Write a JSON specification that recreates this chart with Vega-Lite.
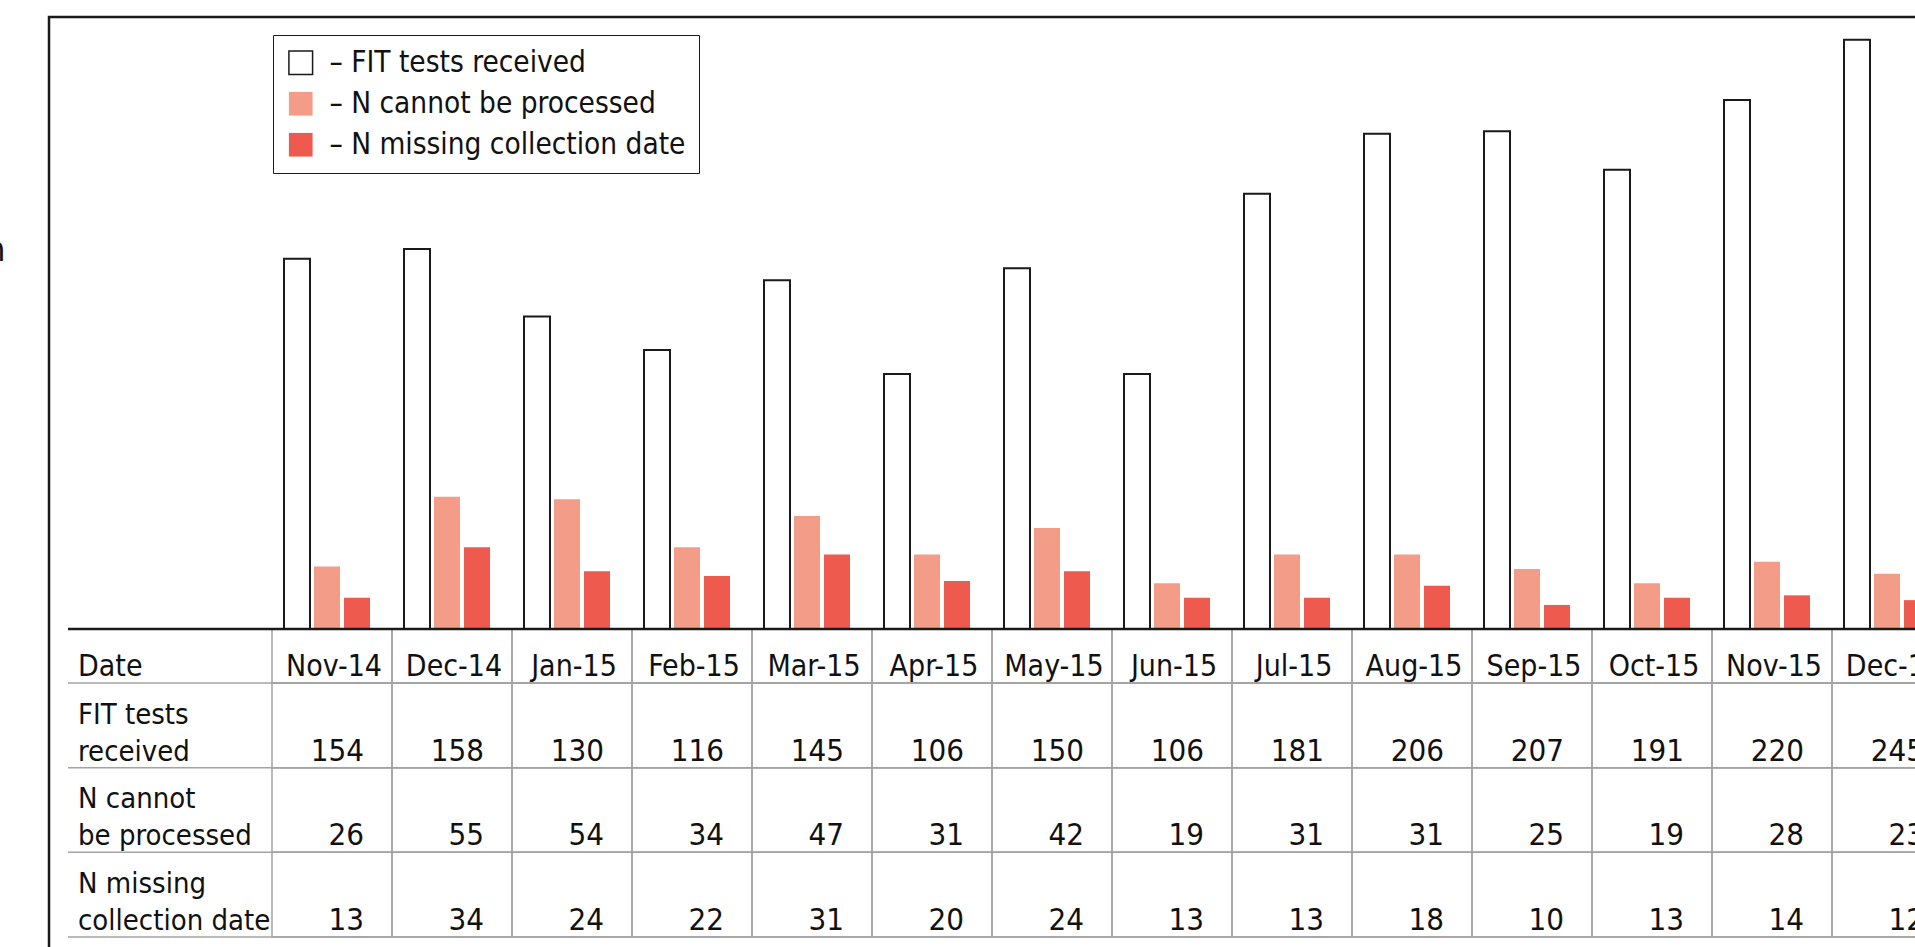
{
  "$schema": "https://vega.github.io/schema/vega-lite/v6.json",
  "autosize": {"type": "none"},
  "padding": {"left": 49, "top": 17, "right": -30, "bottom": -30},
  "width": 1896,
  "height": 960,
  "background": "white",
  "config": {
    "view": {"stroke": "#1a1a1a", "strokeWidth": 2.5},
    "font": "DejaVu Sans Condensed, DejaVu Sans, sans-serif",
    "text": {"font": "DejaVu Sans Condensed, DejaVu Sans, sans-serif", "fontSize": 29, "color": "#111111"}
  },
  "datasets": {
    "counts": [
      {"month": "Nov-14", "series": "FIT tests received", "value": 154},
      {"month": "Dec-14", "series": "FIT tests received", "value": 158},
      {"month": "Jan-15", "series": "FIT tests received", "value": 130},
      {"month": "Feb-15", "series": "FIT tests received", "value": 116},
      {"month": "Mar-15", "series": "FIT tests received", "value": 145},
      {"month": "Apr-15", "series": "FIT tests received", "value": 106},
      {"month": "May-15", "series": "FIT tests received", "value": 150},
      {"month": "Jun-15", "series": "FIT tests received", "value": 106},
      {"month": "Jul-15", "series": "FIT tests received", "value": 181},
      {"month": "Aug-15", "series": "FIT tests received", "value": 206},
      {"month": "Sep-15", "series": "FIT tests received", "value": 207},
      {"month": "Oct-15", "series": "FIT tests received", "value": 191},
      {"month": "Nov-15", "series": "FIT tests received", "value": 220},
      {"month": "Dec-15", "series": "FIT tests received", "value": 245},
      {"month": "Nov-14", "series": "N cannot be processed", "value": 26},
      {"month": "Dec-14", "series": "N cannot be processed", "value": 55},
      {"month": "Jan-15", "series": "N cannot be processed", "value": 54},
      {"month": "Feb-15", "series": "N cannot be processed", "value": 34},
      {"month": "Mar-15", "series": "N cannot be processed", "value": 47},
      {"month": "Apr-15", "series": "N cannot be processed", "value": 31},
      {"month": "May-15", "series": "N cannot be processed", "value": 42},
      {"month": "Jun-15", "series": "N cannot be processed", "value": 19},
      {"month": "Jul-15", "series": "N cannot be processed", "value": 31},
      {"month": "Aug-15", "series": "N cannot be processed", "value": 31},
      {"month": "Sep-15", "series": "N cannot be processed", "value": 25},
      {"month": "Oct-15", "series": "N cannot be processed", "value": 19},
      {"month": "Nov-15", "series": "N cannot be processed", "value": 28},
      {"month": "Dec-15", "series": "N cannot be processed", "value": 23},
      {"month": "Nov-14", "series": "N missing collection date", "value": 13},
      {"month": "Dec-14", "series": "N missing collection date", "value": 34},
      {"month": "Jan-15", "series": "N missing collection date", "value": 24},
      {"month": "Feb-15", "series": "N missing collection date", "value": 22},
      {"month": "Mar-15", "series": "N missing collection date", "value": 31},
      {"month": "Apr-15", "series": "N missing collection date", "value": 20},
      {"month": "May-15", "series": "N missing collection date", "value": 24},
      {"month": "Jun-15", "series": "N missing collection date", "value": 13},
      {"month": "Jul-15", "series": "N missing collection date", "value": 13},
      {"month": "Aug-15", "series": "N missing collection date", "value": 18},
      {"month": "Sep-15", "series": "N missing collection date", "value": 10},
      {"month": "Oct-15", "series": "N missing collection date", "value": 13},
      {"month": "Nov-15", "series": "N missing collection date", "value": 14},
      {"month": "Dec-15", "series": "N missing collection date", "value": 12}
    ],
    "months": [
      {"month": "Nov-14"}, {"month": "Dec-14"}, {"month": "Jan-15"}, {"month": "Feb-15"},
      {"month": "Mar-15"}, {"month": "Apr-15"}, {"month": "May-15"}, {"month": "Jun-15"},
      {"month": "Jul-15"}, {"month": "Aug-15"}, {"month": "Sep-15"}, {"month": "Oct-15"},
      {"month": "Nov-15"}, {"month": "Dec-15"}
    ],
    "rows": [
      {"series": "FIT tests received", "label": "FIT tests\nreceived"},
      {"series": "N cannot be processed", "label": "N cannot\nbe processed"},
      {"series": "N missing collection date", "label": "N missing\ncollection date"}
    ]
  },
  "layer": [
    {
      "data": {"name": "counts"},
      "mark": {"type": "bar", "strokeWidth": 2},
      "encoding": {
        "x": {"field": "month", "type": "nominal", "sort": null, "axis": null,
              "scale": {"domain": ["Nov-14","Dec-14","Jan-15","Feb-15","Mar-15","Apr-15","May-15","Jun-15","Jul-15","Aug-15","Sep-15","Oct-15","Nov-15","Dec-15"], "range": [223, 1903], "paddingInner": 0, "paddingOuter": 0}},
        "xOffset": {"field": "series", "type": "nominal", "sort": null,
              "scale": {"domain": ["FIT tests received", "N cannot be processed", "N missing collection date"], "range": [12, 98], "paddingInner": 0.133, "paddingOuter": 0}},
        "y": {"field": "value", "type": "quantitative",
              "scale": {"domain": [0, 254.5], "range": [612, 0], "nice": false},
              "axis": {"title": "n", "domain": false, "ticks": false, "labels": false, "grid": false,
                       "titleAngle": 0, "titleAlign": "right", "titleBaseline": "alphabetic",
                       "titleX": -44, "titleY": 243, "titleFontSize": 34, "titleFontWeight": "normal",
                       "titleColor": "#111111", "titleFont": "DejaVu Sans Condensed, DejaVu Sans, sans-serif"}},
        "fill": {"field": "series", "type": "nominal", "sort": null,
              "scale": {"domain": ["FIT tests received", "N cannot be processed", "N missing collection date"], "range": ["#ffffff", "#F39C87", "#EE5A4E"]},
              "legend": {"title": null, "orient": "none", "legendX": 224, "legendY": 18, "symbolType": "square", "symbolSize": 560, "symbolStrokeWidth": 1.5, "labelFontSize": 29.5, "labelFont": "DejaVu Sans Condensed, DejaVu Sans, sans-serif", "labelColor": "#111111", "labelExpr": "'– ' + datum.label", "labelOffset": 14, "labelLimit": 600, "rowPadding": 10, "padding": 13, "strokeColor": "#1a1a1a", "fillColor": "#ffffff", "symbolOpacity": 1}},
        "stroke": {"field": "series", "type": "nominal", "sort": null,
              "scale": {"domain": ["FIT tests received", "N cannot be processed", "N missing collection date"], "range": ["#1a1a1a", "rgba(0,0,0,0)", "rgba(0,0,0,0)"]},
              "legend": {"title": null, "orient": "none", "legendX": 224, "legendY": 18, "symbolType": "square", "symbolSize": 560, "symbolStrokeWidth": 1.5, "labelFontSize": 29.5, "labelFont": "DejaVu Sans Condensed, DejaVu Sans, sans-serif", "labelColor": "#111111", "labelExpr": "'– ' + datum.label", "labelOffset": 14, "labelLimit": 600, "rowPadding": 10, "padding": 13, "strokeColor": "#1a1a1a", "fillColor": "#ffffff", "symbolOpacity": 1}}
      }
    },
    {
      "layer": [
        {
          "data": {"name": "months"},
          "mark": {"type": "rect", "filled": false, "color": "#a3a3a3", "strokeWidth": 1.5},
          "encoding": {
            "x": {"field": "month", "type": "nominal", "sort": null,
                  "scale": {"domain": ["Nov-14","Dec-14","Jan-15","Feb-15","Mar-15","Apr-15","May-15","Jun-15","Jul-15","Aug-15","Sep-15","Oct-15","Nov-15","Dec-15"], "range": [223, 1903], "paddingInner": 0, "paddingOuter": 0}},
            "y": {"datum": "Date", "type": "nominal", "axis": null,
                  "scale": {"domain": ["Date"], "range": [612, 666], "paddingInner": 0, "paddingOuter": 0}}
          }
        },
        {
          "data": {"name": "months"},
          "mark": {"type": "text", "align": "center", "baseline": "alphabetic", "dx": 2, "dy": -7, "fontSize": 30},
          "encoding": {
            "x": {"field": "month", "type": "nominal", "sort": null},
            "y": {"datum": "Date", "type": "nominal", "bandPosition": 1},
            "text": {"field": "month"}
          }
        },
        {
          "data": {"values": [{"label": "Date"}]},
          "mark": {"type": "text", "align": "left", "baseline": "alphabetic", "dx": -194, "dy": -7, "fontSize": 30},
          "encoding": {
            "x": {"datum": "Nov-14", "type": "nominal", "bandPosition": 0},
            "y": {"datum": "Date", "type": "nominal", "bandPosition": 1},
            "text": {"field": "label"}
          }
        },
        {
          "data": {"values": [{"label": "Date"}]},
          "mark": {"type": "rule", "color": "#a3a3a3", "strokeWidth": 1.5, "x2Offset": 130},
          "encoding": {
            "x": {"datum": "Nov-14", "type": "nominal", "bandPosition": -1.7},
            "x2": {"datum": "Dec-15"},
            "y": {"datum": "Date", "type": "nominal", "bandPosition": 1}
          }
        },
        {
          "data": {"values": [{"label": "Date"}]},
          "mark": {"type": "rule", "color": "#1a1a1a", "strokeWidth": 2.5, "x2Offset": 130},
          "encoding": {
            "x": {"datum": "Nov-14", "type": "nominal", "bandPosition": -1.7},
            "x2": {"datum": "Dec-15"},
            "y": {"datum": "Date", "type": "nominal", "bandPosition": 0}
          }
        }
      ]
    },
    {
      "layer": [
        {
          "data": {"name": "counts"},
          "mark": {"type": "rect", "filled": false, "color": "#a3a3a3", "strokeWidth": 1.5},
          "encoding": {
            "x": {"field": "month", "type": "nominal", "sort": null,
                  "scale": {"domain": ["Nov-14","Dec-14","Jan-15","Feb-15","Mar-15","Apr-15","May-15","Jun-15","Jul-15","Aug-15","Sep-15","Oct-15","Nov-15","Dec-15"], "range": [223, 1903], "paddingInner": 0, "paddingOuter": 0}},
            "y": {"field": "series", "type": "nominal", "sort": null, "axis": null,
                  "scale": {"domain": ["FIT tests received", "N cannot be processed", "N missing collection date"], "range": [666, 920], "paddingInner": 0, "paddingOuter": 0}}
          }
        },
        {
          "data": {"name": "counts"},
          "mark": {"type": "text", "align": "right", "baseline": "alphabetic", "dx": -28, "dy": -7, "fontSize": 31},
          "encoding": {
            "x": {"field": "month", "type": "nominal", "sort": null, "bandPosition": 1},
            "y": {"field": "series", "type": "nominal", "sort": null, "bandPosition": 1},
            "text": {"field": "value", "type": "quantitative"}
          }
        },
        {
          "data": {"name": "rows"},
          "mark": {"type": "text", "align": "left", "baseline": "alphabetic", "dx": -194, "dy": -44, "fontSize": 29, "lineBreak": "\n", "lineHeight": 37},
          "encoding": {
            "x": {"datum": "Nov-14", "type": "nominal", "bandPosition": 0},
            "y": {"field": "series", "type": "nominal", "sort": null, "bandPosition": 1},
            "text": {"field": "label"}
          }
        },
        {
          "data": {"name": "rows"},
          "mark": {"type": "rule", "color": "#a3a3a3", "strokeWidth": 1.5, "x2Offset": 130},
          "encoding": {
            "x": {"datum": "Nov-14", "type": "nominal", "bandPosition": -1.7},
            "x2": {"datum": "Dec-15"},
            "y": {"field": "series", "type": "nominal", "sort": null, "bandPosition": 1}
          }
        }
      ]
    }
  ],
  "resolve": {"scale": {"y": "independent"}}
}
